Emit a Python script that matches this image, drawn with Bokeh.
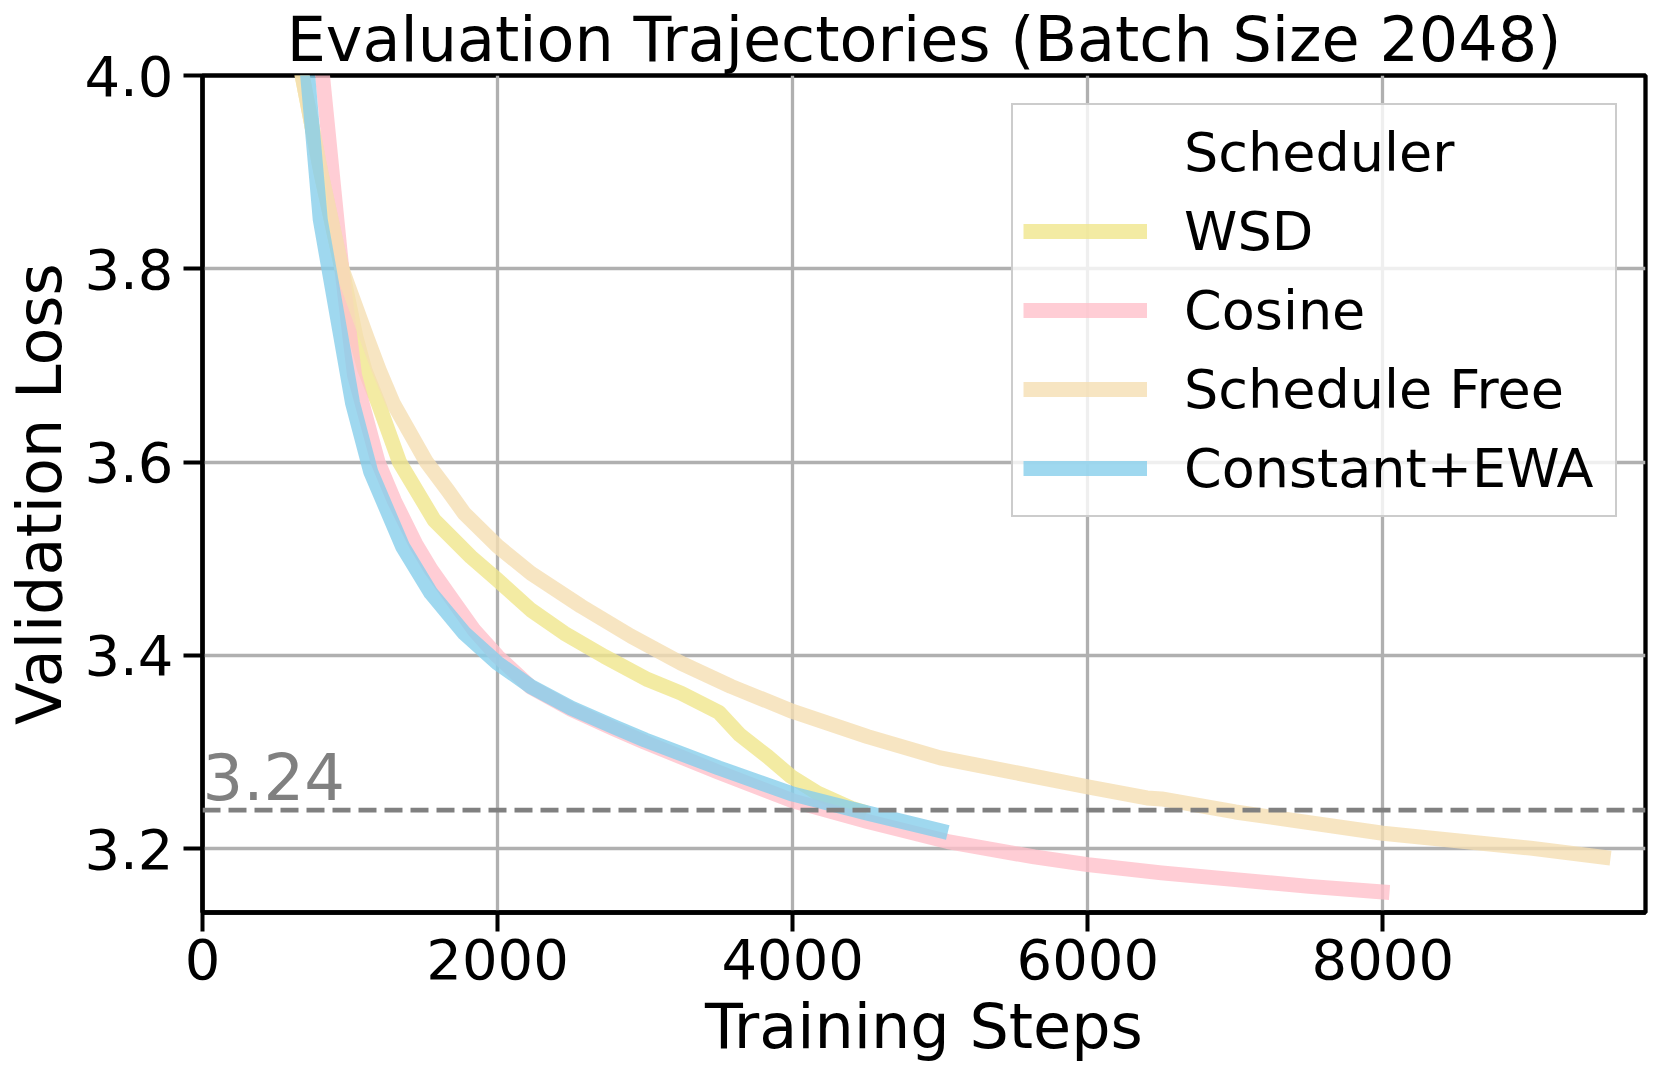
from bokeh.plotting import figure
from bokeh.models import Range1d, FixedTicker, Span, Legend, LegendItem, PrintfTickFormatter
from bokeh.embed import file_html
from bokeh.resources import INLINE
from bokeh.core.properties import value

FONT = "DejaVu Sans"

# ---- data ----
wsd_steps = [650, 802, 945, 1039, 1100, 1191, 1335, 1570, 1819, 2000, 2226, 2452,
             2723, 3017, 3243, 3500, 3640, 3830, 3989, 4169, 4395, 4500]
wsd_loss = [4.02, 3.90, 3.80, 3.730, 3.6955, 3.661, 3.600, 3.540, 3.502, 3.478, 3.447,
            3.423, 3.399, 3.375, 3.361, 3.341, 3.318, 3.2954, 3.2747, 3.2575,
            3.242, 3.237]

cos_steps = [787, 944, 1030, 1190, 1300, 1446, 1548, 1706, 1841, 2000, 2226, 2500,
             2790, 3000, 3500, 4000, 4508, 5051, 5638, 6000, 6500, 7000, 7500, 8045]
cos_loss = [4.04, 3.80, 3.69, 3.60, 3.560, 3.515, 3.489, 3.455, 3.426, 3.399, 3.367,
            3.344, 3.324, 3.310, 3.279, 3.2495, 3.2281, 3.2074, 3.1915, 3.1835, 3.175,
            3.168, 3.161, 3.1547]

sf_steps = [650, 802, 945, 1112, 1197, 1292, 1518, 1661, 1774, 2000, 2226, 2565, 2904,
            3243, 3582, 4000, 4508, 5000, 5500, 6000, 6400, 6500, 7000, 8000, 9000, 9543]
sf_loss = [4.02, 3.90, 3.80, 3.730, 3.6955, 3.661, 3.600, 3.571, 3.547, 3.513, 3.485,
           3.451, 3.420, 3.392, 3.368, 3.342, 3.316, 3.294, 3.279, 3.264, 3.2525, 3.2515,
           3.238, 3.216, 3.2006, 3.1903]

ewa_steps = [690, 798, 1017, 1140, 1356, 1548, 1774, 2000, 2226, 2500, 2790, 3000,
             3500, 4000, 4508, 5051]
ewa_loss = [4.04, 3.851, 3.661, 3.59, 3.5127, 3.4645, 3.4231, 3.392, 3.3678, 3.3455,
            3.326, 3.3125, 3.2835, 3.2565, 3.2368, 3.2168]

series_names = ["WSD", "Cosine", "Schedule Free", "Constant+EWA"]
series_colors = ["khaki", "pink", "wheat", "skyblue"]
series_steps = [wsd_steps, cos_steps, sf_steps, ewa_steps]
series_loss = [wsd_loss, cos_loss, sf_loss, ewa_loss]
legend_title = "Scheduler"

x_ticks = [0, 2000, 4000, 6000, 8000]
y_ticks = [3.2, 3.4, 3.6, 3.8, 4.0]
threshold = 3.24
threshold_label = "3.24"

p = figure(
    frame_width=1443, frame_height=837,
    min_border_left=194, min_border_right=7, min_border_top=68, min_border_bottom=157,
    x_range=Range1d(0, 9780), y_range=Range1d(3.134, 4.0),
    output_backend="svg", toolbar_location=None,
    title="Evaluation Trajectories (Batch Size 2048)",
)

p.title.text_font = FONT
p.title.text_font_size = "62px"
p.title.text_font_style = "normal"
p.title.text_color = "black"
p.title.align = "center"
p.title.standoff = 0
p.title.offset = 0

p.outline_line_color = "black"
p.outline_line_width = 4.3
p.outline_line_alpha = 1.0

for ax in (p.xaxis[0], p.yaxis[0]):
    ax.axis_line_width = 4.3
    ax.axis_line_color = "black"
    ax.major_tick_line_width = 4
    ax.major_tick_line_color = "black"
    ax.major_tick_out = 19
    ax.major_tick_in = 0
    ax.minor_tick_line_color = None
    ax.major_label_text_font = FONT
    ax.major_label_text_font_size = "56px"
    ax.major_label_text_color = "black"
    ax.axis_label_text_font = FONT
    ax.axis_label_text_font_size = "62px"
    ax.axis_label_text_font_style = "normal"
    ax.axis_label_text_color = "black"

p.xaxis.ticker = FixedTicker(ticks=x_ticks)
p.yaxis.ticker = FixedTicker(ticks=y_ticks)
p.yaxis.formatter = PrintfTickFormatter(format="%.1f")
p.xaxis.axis_label = "Training Steps"
p.yaxis.axis_label = "Validation Loss"
p.xaxis.major_label_standoff = 7
p.yaxis.major_label_standoff = 10
p.xaxis.axis_label_standoff = 8
p.yaxis.axis_label_standoff = 5

p.xgrid.ticker = FixedTicker(ticks=x_ticks)
p.ygrid.ticker = FixedTicker(ticks=y_ticks)
for g in (p.xgrid[0], p.ygrid[0]):
    g.grid_line_color = "#b0b0b0"
    g.grid_line_width = 3.3

# invisible renderer that carries the legend heading row
heading = p.line(x=[], y=[], line_alpha=0)
items = [LegendItem(label=legend_title, renderers=[heading])]
for name, col, xs, ys in zip(series_names, series_colors, series_steps, series_loss):
    r = p.line(xs, ys, line_color=col, line_alpha=0.8, line_width=15,
               line_join="round", line_cap="butt")
    items.append(LegendItem(label=name, renderers=[r]))

p.add_layout(Span(location=threshold, dimension="width", line_color="gray",
                  line_width=4.7, line_dash="18 8"))

p.text(x=[0], y=[threshold + 0.035], text=[threshold_label],
       text_font=value(FONT), text_font_size="64px", text_color="gray",
       text_baseline="alphabetic", text_align="left")

legend = Legend(
    items=items, location="top_right",
    label_text_font=FONT, label_text_font_size="54px", label_text_color="black",
    glyph_width=124, glyph_height=40, label_height=74, label_width=421,
    label_standoff=37, spacing=5, padding=10, margin=28,
    border_line_color="#cccccc", border_line_width=2.5, border_line_alpha=1.0,
    background_fill_color="white", background_fill_alpha=0.8,
)
p.add_layout(legend)

open("out.html", "w").write(file_html(p, INLINE))
